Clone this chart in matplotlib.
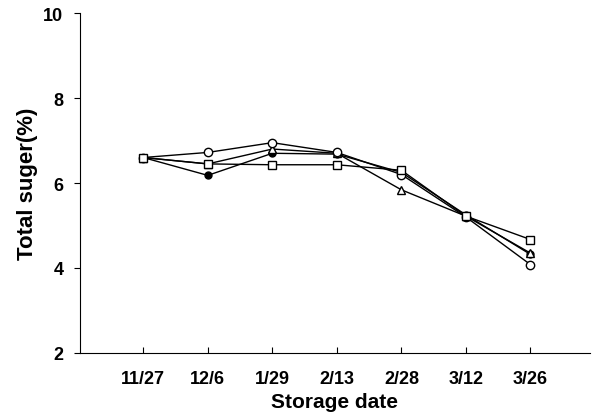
import matplotlib
matplotlib.use("Agg")
import matplotlib.pyplot as plt

dates = ["11/27", "12/6", "1/29", "2/13", "2/28", "3/12", "3/26"]
open_circle = [6.6, 6.72, 6.95, 6.72, 6.2, 5.2, 4.08]
filled_circle = [6.6, 6.18, 6.7, 6.68, 6.25, 5.25, 4.32]
triangle = [6.6, 6.45, 6.8, 6.7, 5.84, 5.22, 4.35]
square = [6.6, 6.45, 6.43, 6.43, 6.3, 5.22, 4.67]

plt.rcParams['font.family'] = ['Liberation Sans', 'DejaVu Sans']

fig = plt.figure(figsize=(5.97, 4.14), dpi=100)
ax = fig.add_axes([0.134, 0.145, 0.854, 0.821])

x = list(range(len(dates)))
ax.plot(x, filled_circle, color='black', lw=1, marker='o', ms=5, mfc='black', mec='black')
ax.plot(x, triangle, color='black', lw=1, marker='^', ms=6, mfc='white', mec='black')
ax.plot(x, open_circle, color='black', lw=1, marker='o', ms=6, mfc='white', mec='black')
ax.plot(x, square, color='black', lw=1, marker='s', ms=6, mfc='white', mec='black')

ax.set_xlim(-0.98, 6.92)
ax.set_ylim(2, 10)
ax.set_yticks([2, 4, 6, 8, 10])
ax.set_xticks(x)
ax.set_xticklabels(dates)

ax.spines['top'].set_visible(False)
ax.spines['right'].set_visible(False)
ax.tick_params(axis='y', direction='out', length=4, labelsize=13, pad=8)
ax.tick_params(axis='x', direction='in', length=4, labelsize=13, pad=12)
for lab in ax.get_xticklabels() + ax.get_yticklabels():
    lab.set_fontweight('bold')

ax.set_xlabel("Storage date", fontsize=15, fontweight='bold', labelpad=4)
ax.set_ylabel("Total suger(%)", fontsize=16, fontweight='bold', labelpad=4)

fig.savefig("out.png", dpi=100)
